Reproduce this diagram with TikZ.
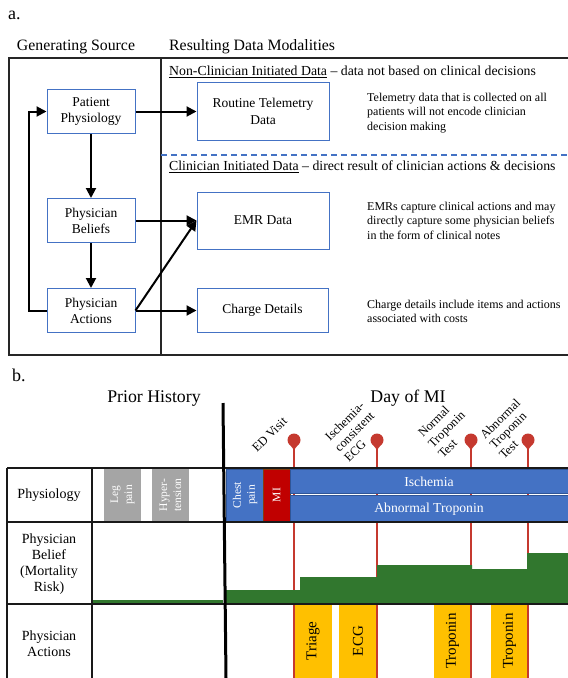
\documentclass[tikz,border=0pt]{standalone}
\usepackage{fontspec}
\setmainfont{Liberation Serif}
\usetikzlibrary{arrows.meta}
\definecolor{nodeblue}{HTML}{4472C4}
\definecolor{barblue}{HTML}{4472C4}
\definecolor{baredge}{HTML}{2F5597}
\definecolor{mired}{HTML}{C00000}
\definecolor{miedge}{HTML}{843C0C}
\definecolor{pinred}{HTML}{C5392F}
\definecolor{histgray}{HTML}{A5A5A5}
\definecolor{beliefgreen}{HTML}{31772E}
\definecolor{actyellow}{HTML}{FFC000}
\newcommand{\fsz}[2]{\fontsize{#1}{#2}\selectfont}
\begin{document}
\begin{tikzpicture}[x=1pt,y=-1pt,
  head/.style={font=\fsz{15.8}{18}, inner sep=0},
  sect/.style={font=\fsz{13.8}{16}, inner sep=0},
  srcbox/.style={draw=nodeblue, line width=1, minimum width=88, minimum height=44, inner sep=0, align=center, font=\fsz{13.5}{16}},
  datbox/.style={draw=nodeblue, line width=1, minimum width=132, inner sep=0, align=center, font=\fsz{13.5}{17}},
  desc/.style={font=\fsz{12}{14.5}, align=left, inner sep=0, anchor=north west},
  arr/.style={line width=2, -{Triangle[length=10pt,width=10pt]}},
  frame/.style={line width=1.2, black!85},
  tbl/.style={line width=1.1, black!90},
  rowlbl/.style={font=\fsz{14}{16}, align=center, inner sep=0},
  histbox/.style={rotate=90, text=white, minimum width=52, minimum height=37, inner sep=0, align=center, font=\fsz{11.5}{14}},
  bar/.style={fill=barblue, draw=baredge, line width=0.6, text=white, inner sep=0, font=\fsz{13.7}{16}},
  actbox/.style={rotate=90, fill=actyellow, minimum width=74, minimum height=38, inner sep=0, font=\fsz{15}{17}},
  pinline/.style={pinred, line width=1.3},
  pinlbl/.style={rotate=45, inner sep=0, anchor=base west, font=\fsz{12.5}{14.5}}
]
\useasboundingbox (0,0) rectangle (568,678);
\fill[white] (0,0) rectangle (568,678);

% ---------------- Part a ----------------
\node[font=\fsz{18}{20}, inner sep=0, anchor=base west] (lbla) at (8,19) {a.};
\node[head, anchor=base] (gsrc) at (76,50) {Generating Source};
\node[head, anchor=base west] (rdm) at (169,50) {Resulting Data Modalities};

\draw[frame] (9,58) rectangle (161,355);
\draw[frame] (161,58) -- (568,58);
\draw[frame] (161,355) -- (568,355);
\draw[nodeblue, line width=1.2, dash pattern=on 6pt off 4pt] (161,155) -- (568,155);

\node[sect, anchor=base west] (nonclin) at (169,75.5) {\underline{Non-Clinician Initiated Data} -- data not based on clinical decisions};
\node[sect, anchor=base west] (clin) at (169,170.5) {\underline{Clinician Initiated Data} -- direct result of clinician actions \& decisions};

\node[srcbox] (phys) at (91,111.5) {Patient\\Physiology};
\node[srcbox] (belief) at (91,220.5) {Physician\\Beliefs};
\node[srcbox] (act) at (91,310.5) {Physician\\Actions};

\node[datbox, minimum height=58] (tele) at (263,111.5) {Routine Telemetry\\Data};
\node[datbox, minimum height=57] (emr) at (263,220.5) {EMR Data};
\node[datbox, minimum height=44, minimum width=131] (charge) at (262.5,310.5) {Charge Details};

\draw[arr] (phys) -- (tele);
\draw[arr] (phys) -- (belief);
\draw[arr] (belief) -- (emr);
\draw[arr] (belief) -- (act);
\draw[arr] (act) -- (charge);
\draw[arr] (act.east) -- (emr.west);
\draw[arr] (act.west) -- ++(-18,0) |- (phys.west);

\node[desc] (dtele) at (367,92.5) {Telemetry data that is collected on all\\patients will not encode clinician\\decision making};
\node[desc] (demr) at (367,201.5) {EMRs capture clinical actions and may\\directly capture some physician beliefs\\in the form of clinical notes};
\node[desc] (dcharge) at (367,299.5) {Charge details include items and actions\\associated with costs};

% ---------------- Part b ----------------
\node[font=\fsz{18}{20}, inner sep=0, anchor=base west] (lblb) at (12,381) {b.};
\node[font=\fsz{17.8}{20}, inner sep=0, anchor=base] (prior) at (154,402) {Prior History};
\node[font=\fsz{17.8}{20}, inner sep=0, anchor=base] (day) at (408,402) {Day of MI};

% pin stems
\foreach \px in {294,377,471,528} {
  \draw[pinline] (\px,441) -- (\px,678);
}

% physiology bars
\node[histbox, fill=histgray] (leg) at (122.5,495) {Leg\\pain};
\node[histbox, fill=histgray] (hyp) at (170.5,495) {Hyper-\\tension};
\node[histbox, fill=barblue, draw=baredge, line width=0.6, minimum height=36.5] (chest) at (245,495) {Chest\\pain};
\node[histbox, fill=mired, draw=miedge, line width=0.6, minimum height=27] (mi) at (276.5,495) {MI};
\node[bar, minimum width=278, minimum height=24.5] (isch) at (429,481.5) {Ischemia};
\node[bar, minimum width=278, minimum height=26] (abtrop) at (429,508.7) {Abnormal Troponin};

% belief steps
\fill[beliefgreen] (92,600) rectangle (223,604);
\fill[beliefgreen] (225,604) -- (225,590) -- (300,590) -- (300,577) -- (377,577) -- (377,565)
  -- (472,565) -- (472,569) -- (527,569) -- (527,553) -- (568,553) -- (568,604) -- cycle;

% actions
\node[actbox] (triage) at (313,641) {Triage};
\node[actbox] (ecg) at (358,641) {ECG};
\node[actbox] (trop1) at (452.5,641) {Troponin};
\node[actbox] (trop2) at (509.5,641) {Troponin};
\foreach \px in {294,377,471,528} {
  \draw[pinline] (\px,604) -- (\px,678);
}

% table lines
\draw[tbl] (7,468) -- (568,468);
\draw[tbl] (7,522) -- (568,522);
\draw[tbl] (7,604) -- (568,604);
\draw[tbl] (7,468) -- (7,678);
\draw[tbl] (92,468) -- (92,678);
\draw[line width=3] (223,403) -- (226,678);

\node[rowlbl] (rphys) at (49,495) {Physiology};
\node[rowlbl] (rbel) at (49,564) {Physician\\Belief\\(Mortality\\Risk)};
\node[rowlbl] (ract) at (49,644) {Physician\\Actions};

% pins
\foreach \px in {294,377,471,528} {
  \fill[pinred] (\px,440) circle (6.5);
  \fill[pinred] (\px-5,443.5) -- (\px,450) -- (\px+5,443.5) -- cycle;
}

\node[pinlbl] (edv) at (257,453) {ED Visit};
\node[pinlbl] (ecgl1) at (330,442) {Ischemia-};
\node[pinlbl] (ecgl2) at (339.5,452.5) {consistent};
\node[pinlbl] (ecgl3) at (349,463) {ECG};
\node[pinlbl] (ntl1) at (423,438) {Normal};
\node[pinlbl] (ntl2) at (433,448.5) {Troponin};
\node[pinlbl] (ntl3) at (443,459) {Test};
\node[pinlbl] (atl1) at (485,440) {Abnormal};
\node[pinlbl] (atl2) at (494.5,450) {Troponin};
\node[pinlbl] (atl3) at (504,460) {Test};
\end{tikzpicture}
\end{document}
